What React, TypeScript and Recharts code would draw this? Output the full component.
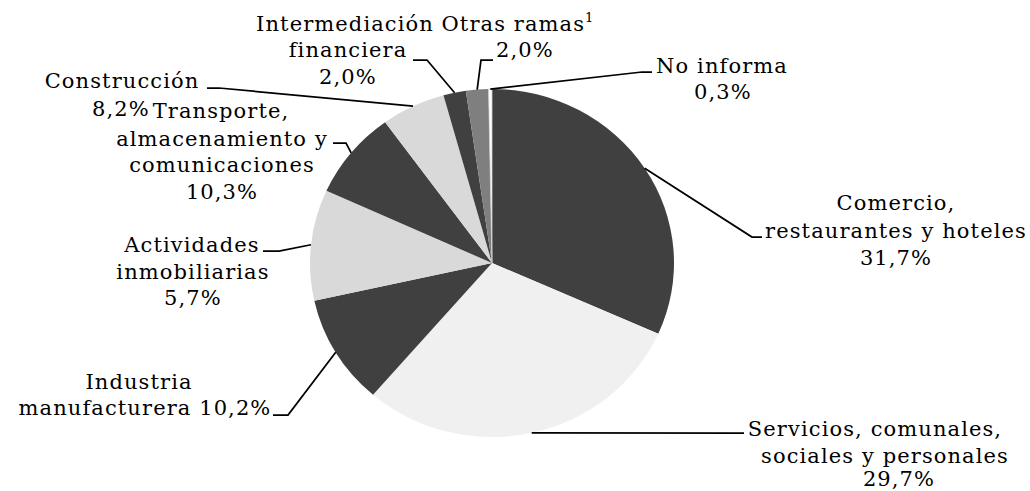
import React from "react";
import { PieChart, Pie, Cell } from "recharts";

// ---- data (slice order, clockwise from 12 o'clock) ----
const SLICE_NAMES = [
  "Comercio, restaurantes y hoteles",
  "Servicios, comunales, sociales y personales",
  "Industria manufacturera",
  "Actividades inmobiliarias",
  "Transporte, almacenamiento y comunicaciones",
  "Construcción",
  "Intermediación financiera",
  "Otras ramas",
  "No informa",
];
const SLICE_VALUES = [31.7, 29.7, 10.2, 10.3, 8.2, 5.7, 2.0, 2.0, 0.3];

// label texts as printed on the chart
const LABEL_LINES: string[][] = [
  ["Comercio,", "restaurantes y hoteles", "31,7%"],
  ["Servicios, comunales,", "sociales y personales", "29,7%"],
  ["Industria", "manufacturera 10,2%"],
  ["Actividades", "inmobiliarias", "5,7%"],
  ["Transporte,", "almacenamiento y", "comunicaciones", "10,3%"],
  ["Construcción", "8,2%"],
  ["Intermediación", "financiera", "2,0%"],
  ["Otras ramas", "2,0%"],
  ["No informa", "0,3%"],
];
const LABEL_SUPERSCRIPTS = ["", "", "", "", "", "", "", "1", ""];

// ---- styles / layout ----
const SLICE_COLORS = [
  "#404040",
  "#f0f0f0",
  "#404040",
  "#d9d9d9",
  "#404040",
  "#d9d9d9",
  "#404040",
  "#7f7f7f",
  "#ffffff",
];

const CX = 492;
const CY = 263;
const R = 182;
const Y_SCALE = 174 / 182;

type Pt = [number, number];
const LABEL_LAYOUT: { text: Pt[]; leader: Pt[] }[] = [
  { text: [[896, 210], [896, 238], [896, 265]], leader: [[752, 237], [762, 237]] },
  { text: [[875, 436], [885, 463], [899, 486]], leader: [[744, 433]] },
  { text: [[139, 389], [145, 415]], leader: [[288, 415], [273, 415]] },
  { text: [[192, 252], [193, 279], [193, 305]], leader: [[279, 251], [263, 251]] },
  { text: [[221, 118], [222, 146], [222, 172], [222, 199]], leader: [[346, 143], [333, 143]] },
  { text: [[122, 88], [121, 116]], leader: [[219, 88], [207, 88]] },
  { text: [[345, 31], [348, 57], [348, 84]], leader: [[427, 60], [413, 60]] },
  { text: [[518, 31], [525, 57]], leader: [[481, 60], [493, 60]] },
  { text: [[722, 73], [723, 99]], leader: [[642, 72], [652, 72]] },
];

const FONT = "'DejaVu Serif', 'Liberation Serif', serif";
const FONT_SIZE = 21;

const data = SLICE_NAMES.map((name, i) => ({ name, value: SLICE_VALUES[i] }));

const renderLabel = (props: any) => {
  const { cx, cy, midAngle, outerRadius, index } = props;
  const rad = Math.PI / 180;
  const ax = cx + outerRadius * Math.cos(-midAngle * rad);
  const ay = cy + outerRadius * Y_SCALE * Math.sin(-midAngle * rad);
  const lay = LABEL_LAYOUT[index];
  const pts = [[ax, ay] as Pt, ...lay.leader].map((p) => `${p[0]},${p[1]}`).join(" ");
  const lines = LABEL_LINES[index];
  return (
    <g key={`lbl-${index}`} className="pie-lbl">
      <polyline points={pts} fill="none" stroke="#000" strokeWidth={1.75} />
      {lines.map((t, i) => (
        <text
          key={i}
          x={lay.text[i][0]}
          y={lay.text[i][1]}
          textAnchor="middle"
          fill="#000"
          fontSize={FONT_SIZE}
          letterSpacing={1.1}
        >
          {t}
          {i === 0 && LABEL_SUPERSCRIPTS[index] ? (
            <tspan dy={-9} fontSize={13}>
              {LABEL_SUPERSCRIPTS[index]}
            </tspan>
          ) : null}
        </text>
      ))}
    </g>
  );
};

export default function App() {
  return (
    <div style={{ width: 1030, height: 491, background: "#fff" }}>
      <style>{`
        body { margin: 0; }
        .recharts-pie-sector { transform-origin: ${CX}px ${CY}px; transform: scaleY(${Y_SCALE}); }
        .pie-lbl text { font-family: ${FONT}; }
      `}</style>
      <PieChart width={1030} height={491} margin={{ top: 0, right: 0, bottom: 0, left: 0 }}>
        <Pie
          data={data}
          dataKey="value"
          nameKey="name"
          cx={CX}
          cy={CY}
          outerRadius={R}
          startAngle={90}
          endAngle={-270}
          isAnimationActive={false}
          label={renderLabel}
          labelLine={false}
        >
          {data.map((d, i) => (
            <Cell
              key={d.name}
              fill={SLICE_COLORS[i]}
              stroke={i === data.length - 1 ? "#cfcfcf" : "none"}
              strokeWidth={i === data.length - 1 ? 0.8 : 0}
            />
          ))}
        </Pie>
      </PieChart>
    </div>
  );
}
